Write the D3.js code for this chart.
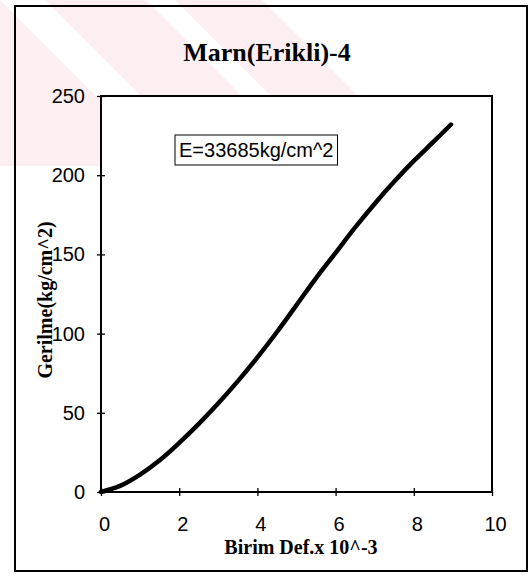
<!DOCTYPE html>
<html>
<head>
<meta charset="utf-8">
<script src="https://cdn.jsdelivr.net/npm/d3@7"></script>
<style>
  body { margin: 0; background: #fff; }
</style>
</head>
<body>
<script>
// strain (x 10^-3) and stress (kg/cm^2)
var strain = [0, 0.5, 1, 1.5, 2, 2.5, 3, 3.5, 4, 4.5, 5, 5.5, 6, 6.5, 7, 7.5, 8, 8.5, 8.95];
var stress = [0, 4, 11, 20, 31, 43, 56, 70, 85, 101, 118, 135, 151, 167, 182, 196, 209, 221, 232];
var xTicks = [0, 2, 4, 6, 8, 10];
var yTicks = [0, 50, 100, 150, 200, 250];
var title = "Marn(Erikli)-4";
var xLabel = "Birim Def.x 10^-3";
var yLabel = "Gerilme(kg/cm^2)";
var note = "E=33685kg/cm^2";

var width = 531, height = 575;
var margin = {top: 96, right: 39, bottom: 83, left: 101};
var graphWidth = width - margin.left - margin.right;
var graphHeight = height - margin.top - margin.bottom;

var svg = d3.select("body").append("svg")
    .attr("width", width)
    .attr("height", height);

// faint watermark stripes from the scan
var wm = svg.append("g").attr("fill", "#fdeef1");
[[45, 146], [175, 262]].forEach(function(b) {
    wm.append("polygon")
        .attr("points", [[b[0], 0], [b[1], 0], [b[1] + 166, 166], [b[0] + 166, 166]].join(" "));
});
wm.append("polygon").attr("points", "0,0 0,166 166,166 0,0");

// outer frame
svg.append("rect")
    .attr("x", 15).attr("y", 6)
    .attr("width", 512).attr("height", 565)
    .attr("fill", "none")
    .attr("stroke", "black")
    .attr("stroke-width", 2);

svg.append("text")
    .attr("x", 267).attr("y", 61)
    .attr("text-anchor", "middle")
    .attr("font-family", "Liberation Serif, Times New Roman, serif")
    .attr("font-weight", "bold")
    .attr("font-size", "26px")
    .text(title);

var graph = svg.append("g")
    .attr("transform", "translate(" + margin.left + "," + margin.top + ")");

var x = d3.scaleLinear().domain([0, 10]).range([0, graphWidth]);
var y = d3.scaleLinear().domain([0, 250]).range([graphHeight, 0]);

graph.append("rect")
    .attr("width", graphWidth).attr("height", graphHeight)
    .attr("fill", "white")
    .attr("stroke", "black")
    .attr("stroke-width", 2);

var xAxis = d3.axisBottom(x).tickValues(xTicks).tickSizeInner(4).tickSizeOuter(0).tickPadding(21);
var yAxis = d3.axisLeft(y).tickValues(yTicks).tickSizeInner(4).tickSizeOuter(0).tickPadding(12);

var xAxisGroup = graph.append("g")
    .attr("transform", "translate(0," + graphHeight + ")")
    .call(xAxis);
var yAxisGroup = graph.append("g").call(yAxis);

[xAxisGroup, yAxisGroup].forEach(function(g) {
    g.select(".domain").remove();
    g.selectAll("line").attr("stroke", "black").attr("stroke-width", 1.3);
    g.selectAll("text")
        .attr("fill", "black")
        .attr("font-family", "Liberation Sans, Arial, sans-serif")
        .attr("font-size", "20px");
});
// ticks cross the axis
xAxisGroup.selectAll(".tick line").attr("y1", -4);
xAxisGroup.selectAll(".tick text").attr("dx", 3);
yAxisGroup.selectAll(".tick line").attr("x1", 4);

var line = d3.line()
    .x(function(d, i) { return x(strain[i]); })
    .y(function(d, i) { return y(stress[i]); })
    .curve(d3.curveCatmullRom);

graph.append("path")
    .datum(stress)
    .attr("d", line)
    .attr("fill", "none")
    .attr("stroke", "black")
    .attr("stroke-width", 4.5)
    .attr("stroke-linecap", "round");

// text box
var noteText = svg.append("text")
    .attr("x", 179).attr("y", 157)
    .attr("font-family", "Liberation Sans, Arial, sans-serif")
    .attr("font-size", "20px")
    .attr("fill", "black")
    .text(note);
var tw = noteText.node().getComputedTextLength();
svg.insert("rect", function() { return noteText.node(); })
    .attr("x", 175).attr("y", 135)
    .attr("width", tw + 8).attr("height", 30)
    .attr("fill", "white")
    .attr("stroke", "black")
    .attr("stroke-width", 1);

svg.append("text")
    .attr("x", 301).attr("y", 554)
    .attr("text-anchor", "middle")
    .attr("font-family", "Liberation Serif, Times New Roman, serif")
    .attr("font-weight", "bold")
    .attr("font-size", "20px")
    .text(xLabel);

svg.append("text")
    .attr("transform", "translate(52,300)rotate(-90)")
    .attr("text-anchor", "middle")
    .attr("font-family", "Liberation Serif, Times New Roman, serif")
    .attr("font-weight", "bold")
    .attr("font-size", "20px")
    .text(yLabel);
</script>
</body>
</html>
